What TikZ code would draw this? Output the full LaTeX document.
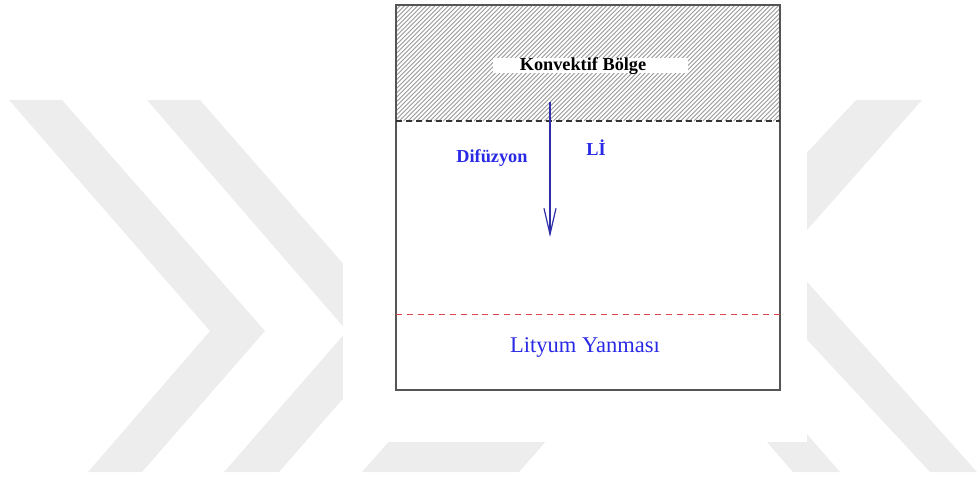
\documentclass[tikz,border=0pt]{standalone}
\usepackage{fontspec}
\setmainfont{Liberation Serif}
\usetikzlibrary{arrows.meta}
\definecolor{wm}{HTML}{EDEDED}
\definecolor{boxc}{HTML}{555555}
\definecolor{txtblue}{HTML}{2A2AE6}
\definecolor{arrblue}{HTML}{2E2EA8}
\definecolor{redd}{HTML}{D9474A}
\definecolor{hatchc}{HTML}{9A9A9A}
\tikzset{
  wmark/.style={fill=wm, draw=none},
  hatchline/.style={draw=hatchc, line width=0.22mm},
  framebox/.style={draw=boxc, line width=0.4mm},
  blackdash/.style={draw=black!80, line width=0.3mm, dash pattern=on 1.5mm off 1mm},
  reddash/.style={draw=redd, line width=0.25mm, dash pattern=on 1.5mm off 1.2mm},
  difarrow/.style={draw=arrblue, line width=0.3mm, -{Straight Barb[length=6.5mm, width=3mm, line width=0.3mm]}},
  labelbox/.style={fill=white, draw=none, inner sep=0pt, minimum width=48.75mm, minimum height=3.75mm},
  blacktxt/.style={font=\fontsize{13}{15}\selectfont\bfseries, text=black, inner sep=0pt},
  bluebold/.style={font=\fontsize{13}{15}\selectfont\bfseries, text=txtblue, inner sep=0pt},
  bluetxt/.style={font=\fontsize{16}{18}\selectfont, text=txtblue, inner sep=0pt}
}
\begin{document}
\begin{tikzpicture}[x=0.25mm, y=-0.25mm]
\useasboundingbox (0,0) rectangle (980,476);
% watermark (faint background chevrons)
\fill[wmark] (9,100) -- (62,100) -- (265,331) -- (142,472) -- (88,472) -- (210,331) -- cycle;
\fill[wmark] (147,100) -- (200,100) -- (402,331) -- (279,472) -- (224,472) -- (347,331) -- cycle;
\fill[wmark] (362,472) -- (519,472) -- (600,380) -- (443,380) -- cycle;
\fill[wmark] (856,100) -- (922,100) -- (784,256) -- (977,472) -- (930,472) -- (720,246) -- cycle;
\fill[wmark] (793,472) -- (840,472) -- (760,380) -- (713,380) -- cycle;
% white picture area
\fill[white] (343,0) rectangle (807,442);
% hatching
\begin{scope}
  \clip (396,5) rectangle (780,121);
  \foreach \i in {0,...,116} {\draw[hatchline] ({276+4.4*\i},121) -- ++(116,-116);}
\end{scope}
% frame
\draw[framebox] (396,5) rectangle (780,390);
% boundary lines
\coordinate (bl) at (396,121);
\coordinate (br) at (780,121);
\coordinate (rl) at (396,314);
\coordinate (rr) at (780,314);
\draw[blackdash] (bl) -- (br);
\draw[reddash] (rl) -- (rr);
% label box
\node[labelbox] (kbox) at (590.5,65.5) {};
\node[blacktxt] (konv) at (583,66) {Konvektif Bölge};
% arrow
\coordinate (atop) at (550,102);
\coordinate (abot) at (550,237);
\draw[difarrow] (atop) -- (abot);
\node[bluebold] (dif) at (492,158) {Difüzyon};
\node[bluebold] (li) at (596,148) {Lİ};
\node[bluetxt] (lit) at (585,347) {Lityum Yanması};
\end{tikzpicture}
\end{document}
